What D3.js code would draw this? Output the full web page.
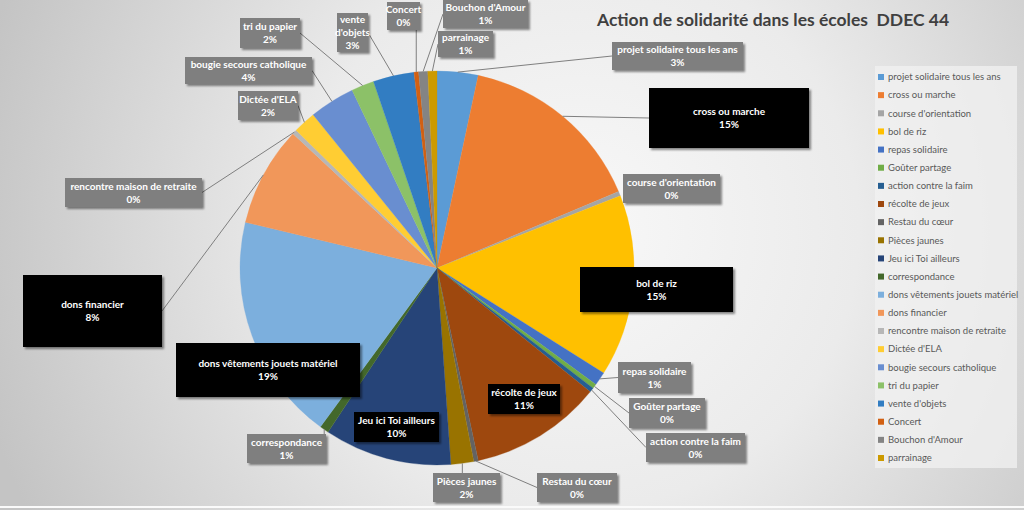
<!DOCTYPE html>
<html><head><meta charset="utf-8">
<script src="https://cdn.jsdelivr.net/npm/d3@7"></script>
<style>body{margin:0;background:#fff}svg{display:block}</style>
</head><body><svg id="c" width="1024" height="510"></svg>
<script>
const categories = ["projet solidaire tous les ans","cross ou marche","course d'orientation","bol de riz","repas solidaire","Goûter partage","action contre la faim","récolte de jeux","Restau du cœur","Pièces jaunes","Jeu ici Toi ailleurs","correspondance","dons vêtements jouets matériel","dons financier","rencontre maison de retraite","Dictée d'ELA","bougie secours catholique","tri du papier","vente d'objets","Concert","Bouchon d'Amour","parrainage"];
const values = [9,41,1,40,3,1,1,29,1,5,28,2,50,22,1,5,10,5,9,1,2,2];
const colors = ["#5B9BD5","#ED7D31","#A5A5A5","#FFC000","#4472C4","#70AD47","#255E91","#9E480E","#636363","#997300","#264478","#43682B","#7CAFDD","#F1975A","#B7B7B7","#FFCD33","#698ED0","#8CC168","#327DC2","#D26012","#848484","#CC9A00"];
const title = "Action de solidarité dans les écoles  DDEC 44";

// label box layout (position/size/style), one per category
const labelLayout = [
 {x:612,y:42,w:131,h:28,dark:0,leader:1},
 {x:649,y:88,w:160,h:60,dark:1,leader:1},
 {x:623,y:174,w:97,h:29,dark:0,leader:0},
 {x:580,y:267,w:153,h:45,dark:1,leader:0},
 {x:618,y:362,w:73,h:31,dark:0,leader:1},
 {x:629,y:398,w:76,h:30,dark:0,leader:1},
 {x:646,y:433,w:99,h:29,dark:0,leader:1},
 {x:488,y:384,w:72,h:30,dark:1,leader:0},
 {x:537,y:473,w:80,h:29,dark:0,leader:1},
 {x:433,y:473,w:67,h:29,dark:0,leader:1},
 {x:354,y:412,w:85,h:30,dark:1,leader:0},
 {x:247,y:434,w:79,h:29,dark:0,leader:1},
 {x:176,y:343,w:184,h:54,dark:1,leader:0},
 {x:23,y:275,w:139,h:72,dark:1,leader:1},
 {x:65,y:178,w:137,h:29,dark:0,leader:1},
 {x:238,y:91,w:60,h:29,dark:0,leader:1},
 {x:185,y:57,w:127,h:27,dark:0,leader:1},
 {x:240,y:18,w:60,h:30,dark:0,leader:1},
 {x:337,y:13,w:31,h:39,dark:0,leader:1},
 {x:387,y:2,w:33,h:28,dark:0,leader:1},
 {x:443,y:0,w:85,h:28,dark:0,leader:1},
 {x:438,y:31,w:55,h:26,dark:0,leader:1}
];

const W=1024,H=510, cx=437, cy=268, R=197;
const svg=d3.select("#c");
const defs=svg.append("defs");
const bg=defs.append("radialGradient").attr("id","bg").attr("gradientUnits","userSpaceOnUse")
  .attr("cx",580).attr("cy",230).attr("r",620);
bg.append("stop").attr("offset","0").attr("stop-color","#f8f8f8");
bg.append("stop").attr("offset","0.45").attr("stop-color","#ebebeb");
bg.append("stop").attr("offset","1").attr("stop-color","#c4c4c4");
const sh=defs.append("filter").attr("id","sh").attr("x","-20%").attr("y","-20%").attr("width","150%").attr("height","160%");
sh.append("feDropShadow").attr("dx",2).attr("dy",2).attr("stdDeviation",1.3).attr("flood-color","#000").attr("flood-opacity",0.45);

svg.append("rect").attr("width",W).attr("height",H).attr("fill","url(#bg)");
svg.append("rect").attr("x",0).attr("y",506).attr("width",W).attr("height",2).attr("fill","#fafafa");

const total=d3.sum(values);
const pct=d3.format(".0%");
const data=categories.map((c,i)=>({name:c,value:values[i],color:colors[i],lab:labelLayout[i]}));
const pie=d3.pie().value(d=>d.value).sort(null);
const arcs=pie(data);
const arc=d3.arc().innerRadius(0).outerRadius(R);
const g=svg.append("g").attr("transform",`translate(${cx},${cy})`);
g.selectAll("path").data(arcs).join("path").attr("d",arc).attr("fill",d=>d.data.color)
  .attr("stroke",d=>d.data.color).attr("stroke-width",0.3);

// leader lines
const lines=svg.append("g");
arcs.forEach(a=>{
  const L=a.data.lab; if(!L.leader) return;
  const m=(a.startAngle+a.endAngle)/2;
  const px=cx+R*Math.sin(m), py=cy-R*Math.cos(m);
  let ex,ey;
  if(px<L.x){ex=L.x;ey=L.y+L.h/2;}
  else if(px>L.x+L.w){ex=L.x+L.w;ey=L.y+L.h/2;}
  else {ex=px;ey=(py<L.y)?L.y:L.y+L.h;}
  lines.append("line").attr("x1",px).attr("y1",py).attr("x2",ex).attr("y2",ey)
    .attr("stroke","#7f7f7f").attr("stroke-width",1);
});

// labels
const lg=svg.append("g").attr("font-family","Lato, 'Open Sans', sans-serif").attr("font-weight","bold").attr("font-size","10px");
arcs.forEach(a=>{
  const L=a.data.lab;
  const gg=lg.append("g");
  gg.append("rect").attr("x",L.x).attr("y",L.y).attr("width",L.w).attr("height",L.h)
    .attr("fill",L.dark?"#000":"#7f7f7f").attr("filter","url(#sh)");
  const t=gg.append("text").attr("fill","#fff").attr("text-anchor","middle");
  const words=a.data.name.split(" ");
  const out=[]; let cur="";
  const probe=lg.append("text");
  words.forEach(w=>{
    const test=cur?cur+" "+w:w;
    probe.text(test);
    if(cur && probe.node().getComputedTextLength()>L.w+2){out.push(cur);cur=w;} else cur=test;
  });
  out.push(cur); probe.remove();
  out.push(pct(a.data.value/total));
  const lh=13, y0=L.y+L.h/2-(out.length-1)*lh/2+3.5;
  out.forEach((s,i)=>t.append("tspan").attr("x",L.x+L.w/2).attr("y",y0+i*lh).text(s));
});

// title
svg.append("text").attr("x",597).attr("y",26).attr("font-family","Lato, 'Open Sans', sans-serif")
  .attr("xml:space","preserve").style("white-space","pre")
  .attr("font-weight","bold").attr("font-size","17.5px").attr("fill","#404040").text(title);

// legend
const leg=svg.append("g");
leg.append("rect").attr("x",875).attr("y",66).attr("width",142).attr("height",402).attr("fill","#f2f2f2").attr("opacity",0.75);
const ly=d3.scalePoint().domain(categories).range([77,458]);
const li=leg.selectAll("g.i").data(data).join("g").attr("class","i").attr("transform",d=>`translate(878,${ly(d.name)})`);
li.append("rect").attr("x",0).attr("y",-3).attr("width",6).attr("height",6).attr("fill",d=>d.color);
li.append("text").attr("x",10).attr("y",3.3).attr("font-family","Lato, 'Open Sans', sans-serif").attr("font-size","9.5px").attr("fill","#595959").text(d=>d.name);
</script></body></html>
